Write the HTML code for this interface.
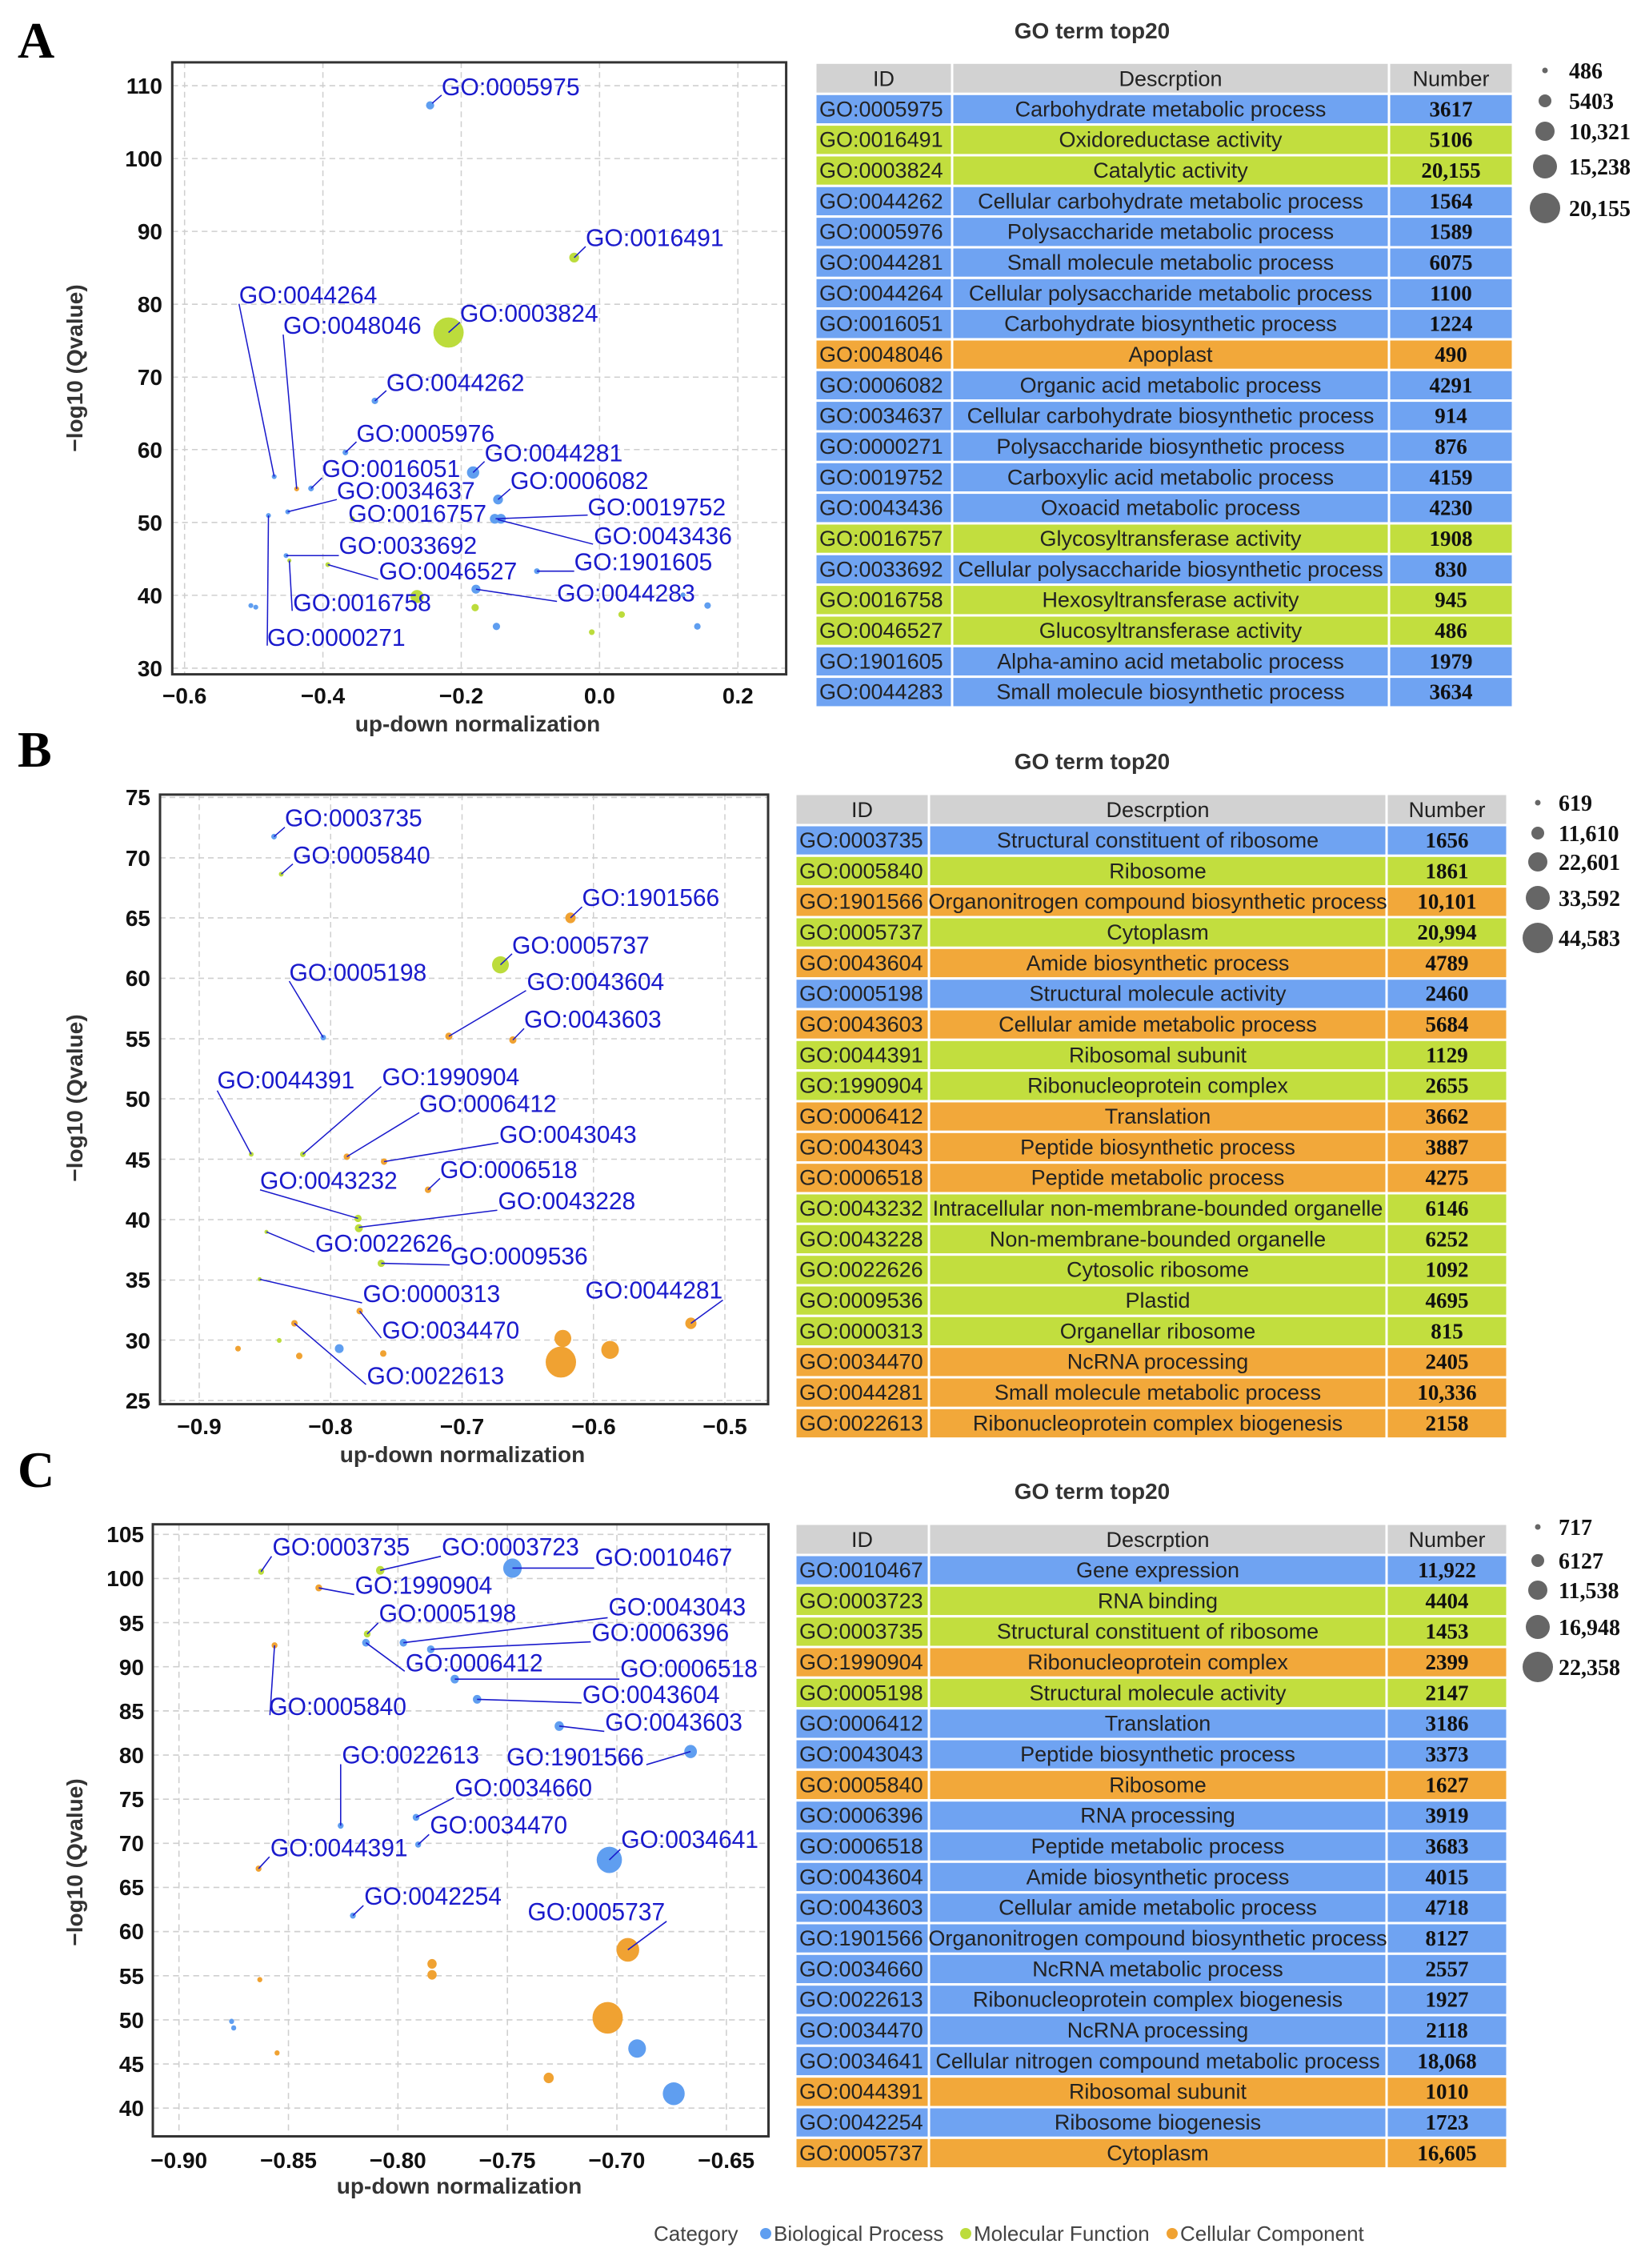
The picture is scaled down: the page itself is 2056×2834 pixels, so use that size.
<!DOCTYPE html>
<html><head><meta charset="utf-8"><style>
html,body{margin:0;padding:0;background:#fff}
svg{display:block}
.gl{stroke:#cfcfcf;stroke-width:3;stroke-dasharray:14 10;fill:none}
.ld{stroke:#1a1acc;stroke-width:3;fill:none}
.lb{fill:#1a1acc;font-family:"Liberation Sans",sans-serif}
.b{fill:#5f9ef0}.g{fill:#bcdc3c}.o{fill:#f0a232}
.tk{font-family:"Liberation Sans",sans-serif;font-weight:bold;font-size:28px;fill:#111}
.ttl{font-family:"Liberation Sans",sans-serif;font-weight:bold;font-size:28px;fill:#333}
.tx{font-family:"Liberation Sans",sans-serif;font-size:27px;fill:#222}
.nm{font-family:"Liberation Serif",serif;font-weight:bold;font-size:27px;fill:#111}
.ln{font-family:"Liberation Serif",serif;font-weight:bold;font-size:28px;fill:#111}
.rowb{fill:#6fa3f2;stroke:#fff;stroke-width:3}
.rowg{fill:#c2de3e;stroke:#fff;stroke-width:3}
.rowo{fill:#f2a83a;stroke:#fff;stroke-width:3}
.hd{fill:#d2d2d2;stroke:#fff;stroke-width:3}
.sep{stroke:#fff;stroke-width:3}
.lt{font-family:"Liberation Serif",serif;font-weight:bold;font-size:64px;fill:#000}
</style></head><body>
<svg width="2056" height="2834" viewBox="0 0 2056 2834" xmlns="http://www.w3.org/2000/svg">
<rect width="2056" height="2834" fill="#fff"/>

<text class="lt" x="22" y="72">A</text>
<text class="lt" x="22" y="958">B</text>
<text class="lt" x="22" y="1858">C</text>

<!-- ============ PANEL A PLOT ============ -->
<g transform="translate(200,60) scale(0.5115)">
<g class="gl">
<line x1="60" y1="35" x2="60" y2="1530"/><line x1="398" y1="35" x2="398" y2="1530"/><line x1="736" y1="35" x2="736" y2="1530"/><line x1="1074" y1="35" x2="1074" y2="1530"/><line x1="1412" y1="35" x2="1412" y2="1530"/>
<line x1="30" y1="92" x2="1530" y2="92"/><line x1="30" y1="270" x2="1530" y2="270"/><line x1="30" y1="448" x2="1530" y2="448"/><line x1="30" y1="626" x2="1530" y2="626"/><line x1="30" y1="804" x2="1530" y2="804"/><line x1="30" y1="981" x2="1530" y2="981"/><line x1="30" y1="1159" x2="1530" y2="1159"/><line x1="30" y1="1337" x2="1530" y2="1337"/><line x1="30" y1="1515" x2="1530" y2="1515"/>
</g>
<circle class="b" cx="660" cy="140" r="10"/>
<circle class="g" cx="1012" cy="512" r="12"/>
<circle class="g" cx="705" cy="695" r="37"/>
<circle class="b" cx="525" cy="862" r="8"/>
<circle class="b" cx="453" cy="988" r="7"/>
<circle class="b" cx="765" cy="1037" r="15"/>
<circle class="b" cx="279" cy="1047" r="6"/>
<circle class="o" cx="334" cy="1077" r="6"/>
<circle class="b" cx="369" cy="1076" r="7"/>
<circle class="b" cx="826" cy="1103" r="12"/>
<circle class="b" cx="312" cy="1133" r="6"/>
<circle class="b" cx="265" cy="1142" r="6"/>
<circle class="g" cx="470" cy="1150" r="6"/>
<circle class="b" cx="818" cy="1150" r="12"/>
<circle class="b" cx="833" cy="1150" r="12"/>
<circle class="b" cx="308" cy="1240" r="6"/>
<circle class="g" cx="316" cy="1252" r="5"/>
<circle class="g" cx="410" cy="1262" r="6"/>
<circle class="b" cx="921" cy="1278" r="7"/>
<circle class="b" cx="772" cy="1322" r="11"/>
<circle class="g" cx="628" cy="1340" r="16"/>
<circle class="b" cx="222" cy="1362" r="6"/>
<circle class="b" cx="234" cy="1366" r="6"/>
<circle class="g" cx="770" cy="1367" r="9"/>
<circle class="b" cx="822" cy="1413" r="9"/>
<circle class="g" cx="1128" cy="1384" r="8"/>
<circle class="g" cx="1055" cy="1427" r="7"/>
<circle class="b" cx="1278" cy="1336" r="6"/>
<circle class="b" cx="1338" cy="1362" r="8"/>
<circle class="b" cx="1313" cy="1413" r="8"/>
<g class="ld">
<line x1="665" y1="135" x2="688" y2="115"/>
<line x1="1012" y1="512" x2="1040" y2="485"/>
<line x1="705" y1="695" x2="733" y2="670"/>
<line x1="525" y1="862" x2="553" y2="837"/>
<line x1="453" y1="988" x2="480" y2="962"/>
<line x1="765" y1="1037" x2="793" y2="1010"/>
<line x1="193" y1="625" x2="279" y2="1047"/>
<line x1="301" y1="700" x2="334" y2="1077"/>
<line x1="369" y1="1076" x2="396" y2="1050"/>
<line x1="826" y1="1103" x2="856" y2="1077"/>
<line x1="312" y1="1133" x2="432" y2="1103"/>
<line x1="265" y1="1142" x2="262" y2="1460"/>
<line x1="820" y1="1150" x2="1045" y2="1141"/>
<line x1="825" y1="1152" x2="1058" y2="1212"/>
<line x1="308" y1="1240" x2="437" y2="1240"/>
<line x1="316" y1="1252" x2="323" y2="1375"/>
<line x1="410" y1="1262" x2="533" y2="1298"/>
<line x1="921" y1="1278" x2="1012" y2="1278"/>
<line x1="772" y1="1322" x2="970" y2="1352"/>
</g>
<g class="lb" font-size="59">
<text x="688" y="115">GO:0005975</text>
<text x="1040" y="484">GO:0016491</text>
<text x="733" y="669">GO:0003824</text>
<text x="553" y="838">GO:0044262</text>
<text x="480" y="962">GO:0005976</text>
<text x="793" y="1010">GO:0044281</text>
<text x="193" y="624">GO:0044264</text>
<text x="301" y="698">GO:0048046</text>
<text x="396" y="1048">GO:0016051</text>
<text x="856" y="1077">GO:0006082</text>
<text x="432" y="1102">GO:0034637</text>
<text x="460" y="1157">GO:0016757</text>
<text x="1045" y="1142">GO:0019752</text>
<text x="1060" y="1212">GO:0043436</text>
<text x="437" y="1236">GO:0033692</text>
<text x="535" y="1298">GO:0046527</text>
<text x="1012" y="1276">GO:1901605</text>
<text x="970" y="1352">GO:0044283</text>
<text x="325" y="1375">GO:0016758</text>
<text x="262" y="1460">GO:0000271</text>
</g>
</g>
<rect x="215.3" y="77.9" width="767.3" height="764.7" fill="none" stroke="#333" stroke-width="3"/>
<g class="tk" text-anchor="end">
<text x="203" y="117">110</text><text x="203" y="208">100</text><text x="203" y="299">90</text><text x="203" y="390">80</text><text x="203" y="481">70</text><text x="203" y="572">60</text><text x="203" y="663">50</text><text x="203" y="754">40</text><text x="203" y="845">30</text>
</g>
<g class="tk" text-anchor="middle">
<text x="230.7" y="879">−0.6</text><text x="403.6" y="879">−0.4</text><text x="576.5" y="879">−0.2</text><text x="749.4" y="879">0.0</text><text x="922.3" y="879">0.2</text>
</g>
<text class="ttl" x="597" y="914" text-anchor="middle">up-down normalization</text>
<text class="ttl" transform="translate(103,460) rotate(-90)" text-anchor="middle">−log10 (Qvalue)</text>

<!-- ============ PANEL B PLOT ============ -->
<g transform="translate(190,975) scale(0.5,0.5102)">
<g class="gl">
<line x1="118" y1="35" x2="118" y2="1528"/><line x1="446.5" y1="35" x2="446.5" y2="1528"/><line x1="775" y1="35" x2="775" y2="1528"/><line x1="1103.5" y1="35" x2="1103.5" y2="1528"/><line x1="1432" y1="35" x2="1432" y2="1528"/>
<line x1="20" y1="42" x2="1540" y2="42"/><line x1="20" y1="190" x2="1540" y2="190"/><line x1="20" y1="337" x2="1540" y2="337"/><line x1="20" y1="485" x2="1540" y2="485"/><line x1="20" y1="633" x2="1540" y2="633"/><line x1="20" y1="780" x2="1540" y2="780"/><line x1="20" y1="928" x2="1540" y2="928"/><line x1="20" y1="1076" x2="1540" y2="1076"/><line x1="20" y1="1224" x2="1540" y2="1224"/><line x1="20" y1="1371" x2="1540" y2="1371"/><line x1="20" y1="1519" x2="1540" y2="1519"/>
</g>
<circle class="b" cx="305" cy="138" r="7"/>
<circle class="g" cx="323" cy="230" r="6"/>
<circle class="o" cx="1046" cy="337" r="13"/>
<circle class="g" cx="871" cy="452" r="21"/>
<circle class="b" cx="428" cy="630" r="7"/>
<circle class="o" cx="742" cy="627" r="9"/>
<circle class="o" cx="902" cy="636" r="9"/>
<circle class="g" cx="248" cy="916" r="6"/>
<circle class="g" cx="377" cy="916" r="7"/>
<circle class="o" cx="487" cy="922" r="8"/>
<circle class="o" cx="580" cy="934" r="8"/>
<circle class="o" cx="690" cy="1003" r="8"/>
<circle class="g" cx="515" cy="1073" r="9"/>
<circle class="g" cx="517" cy="1097" r="10"/>
<circle class="g" cx="286" cy="1106" r="5"/>
<circle class="g" cx="573" cy="1183" r="9"/>
<circle class="g" cx="269" cy="1222" r="5"/>
<circle class="o" cx="519" cy="1300" r="8"/>
<circle class="o" cx="356" cy="1330" r="8"/>
<circle class="o" cx="1347" cy="1330" r="14"/>
<circle class="o" cx="1027" cy="1367" r="21"/>
<circle class="o" cx="1022" cy="1425" r="38"/>
<circle class="o" cx="1145" cy="1395" r="22"/>
<circle class="o" cx="215" cy="1392" r="7"/>
<circle class="g" cx="318" cy="1372" r="6"/>
<circle class="o" cx="368" cy="1410" r="8"/>
<circle class="b" cx="468" cy="1392" r="11"/>
<circle class="o" cx="578" cy="1404" r="8"/>
<g class="ld">
<line x1="305" y1="138" x2="332" y2="115"/>
<line x1="323" y1="230" x2="352" y2="205"/>
<line x1="1046" y1="337" x2="1075" y2="310"/>
<line x1="871" y1="452" x2="900" y2="425"/>
<line x1="343" y1="492" x2="428" y2="630"/>
<line x1="742" y1="627" x2="935" y2="515"/>
<line x1="902" y1="636" x2="930" y2="608"/>
<line x1="163" y1="760" x2="248" y2="916"/>
<line x1="377" y1="916" x2="573" y2="750"/>
<line x1="487" y1="922" x2="668" y2="814"/>
<line x1="580" y1="934" x2="866" y2="888"/>
<line x1="690" y1="1003" x2="720" y2="975"/>
<line x1="270" y1="1003" x2="515" y2="1073"/>
<line x1="517" y1="1095" x2="863" y2="1053"/>
<line x1="286" y1="1106" x2="406" y2="1155"/>
<line x1="573" y1="1183" x2="744" y2="1187"/>
<line x1="269" y1="1222" x2="525" y2="1280"/>
<line x1="519" y1="1300" x2="573" y2="1366"/>
<line x1="356" y1="1330" x2="535" y2="1480"/>
<line x1="1347" y1="1330" x2="1427" y2="1273"/>
</g>
<g class="lb" font-size="60">
<text x="332" y="113">GO:0003735</text>
<text x="352" y="204">GO:0005840</text>
<text x="1075" y="308">GO:1901566</text>
<text x="900" y="424">GO:0005737</text>
<text x="343" y="491">GO:0005198</text>
<text x="937" y="514">GO:0043604</text>
<text x="930" y="606">GO:0043603</text>
<text x="163" y="755">GO:0044391</text>
<text x="575" y="747">GO:1990904</text>
<text x="668" y="812">GO:0006412</text>
<text x="868" y="888">GO:0043043</text>
<text x="720" y="974">GO:0006518</text>
<text x="270" y="1001">GO:0043232</text>
<text x="865" y="1051">GO:0043228</text>
<text x="408" y="1154">GO:0022626</text>
<text x="746" y="1186">GO:0009536</text>
<text x="527" y="1278">GO:0000313</text>
<text x="575" y="1367">GO:0034470</text>
<text x="537" y="1479">GO:0022613</text>
<text x="1083" y="1269">GO:0044281</text>
</g>
</g>
<rect x="200" y="992.9" width="760" height="761.7" fill="none" stroke="#333" stroke-width="3"/>
<g class="tk" text-anchor="end">
<text x="188" y="1006">75</text><text x="188" y="1082">70</text><text x="188" y="1157">65</text><text x="188" y="1232">60</text><text x="188" y="1308">55</text><text x="188" y="1383">50</text><text x="188" y="1459">45</text><text x="188" y="1534">40</text><text x="188" y="1609">35</text><text x="188" y="1685">30</text><text x="188" y="1760">25</text>
</g>
<g class="tk" text-anchor="middle">
<text x="249" y="1792">−0.9</text><text x="413" y="1792">−0.8</text><text x="577.5" y="1792">−0.7</text><text x="742" y="1792">−0.6</text><text x="906" y="1792">−0.5</text>
</g>
<text class="ttl" x="578" y="1827" text-anchor="middle">up-down normalization</text>
<text class="ttl" transform="translate(103,1372) rotate(-90)" text-anchor="middle">−log10 (Qvalue)</text>

<!-- ============ PANEL C PLOT ============ -->
<g transform="translate(150,1880) scale(0.5263,0.5482)">
<g class="gl">
<line x1="140" y1="45" x2="140" y2="1440"/><line x1="400" y1="45" x2="400" y2="1440"/><line x1="660" y1="45" x2="660" y2="1440"/><line x1="920" y1="45" x2="920" y2="1440"/><line x1="1180" y1="45" x2="1180" y2="1440"/><line x1="1440" y1="45" x2="1440" y2="1440"/>
<line x1="78" y1="68" x2="1540" y2="68"/><line x1="78" y1="168.6" x2="1540" y2="168.6"/><line x1="78" y1="269.2" x2="1540" y2="269.2"/><line x1="78" y1="369.8" x2="1540" y2="369.8"/><line x1="78" y1="470.4" x2="1540" y2="470.4"/><line x1="78" y1="571" x2="1540" y2="571"/><line x1="78" y1="671.6" x2="1540" y2="671.6"/><line x1="78" y1="772.2" x2="1540" y2="772.2"/><line x1="78" y1="872.8" x2="1540" y2="872.8"/><line x1="78" y1="973.4" x2="1540" y2="973.4"/><line x1="78" y1="1074" x2="1540" y2="1074"/><line x1="78" y1="1174.6" x2="1540" y2="1174.6"/><line x1="78" y1="1275.2" x2="1540" y2="1275.2"/><line x1="78" y1="1375.8" x2="1540" y2="1375.8"/>
</g>
<circle class="g" cx="335" cy="153" r="7"/>
<circle class="g" cx="618" cy="150" r="10"/>
<circle class="b" cx="932" cy="145" r="22"/>
<circle class="o" cx="472" cy="190" r="8"/>
<circle class="g" cx="587" cy="295" r="8"/>
<circle class="b" cx="584" cy="315" r="9"/>
<circle class="b" cx="673" cy="315" r="9"/>
<circle class="b" cx="738" cy="330" r="9"/>
<circle class="o" cx="367" cy="321" r="7"/>
<circle class="b" cx="795" cy="398" r="10"/>
<circle class="b" cx="848" cy="444" r="10"/>
<circle class="b" cx="1043" cy="505" r="11"/>
<circle class="b" cx="1355" cy="563" r="15"/>
<circle class="b" cx="524" cy="732" r="7"/>
<circle class="b" cx="703" cy="713" r="8"/>
<circle class="b" cx="708" cy="775" r="7"/>
<circle class="o" cx="329" cy="830" r="7"/>
<circle class="b" cx="1162" cy="810" r="30"/>
<circle class="b" cx="553" cy="937" r="7"/>
<circle class="o" cx="1206" cy="1015" r="27"/>
<circle class="o" cx="741" cy="1047" r="11"/>
<circle class="o" cx="741" cy="1072" r="11"/>
<circle class="o" cx="332" cy="1083" r="6"/>
<circle class="o" cx="1158" cy="1170" r="36"/>
<circle class="b" cx="1228" cy="1240" r="21"/>
<circle class="b" cx="265" cy="1178" r="6"/>
<circle class="b" cx="270" cy="1193" r="6"/>
<circle class="o" cx="373" cy="1250" r="6"/>
<circle class="o" cx="1018" cy="1307" r="12"/>
<circle class="b" cx="1315" cy="1343" r="26"/>
<g class="ld">
<line x1="335" y1="153" x2="360" y2="118"/>
<line x1="618" y1="150" x2="762" y2="118"/>
<line x1="932" y1="145" x2="1126" y2="145"/>
<line x1="472" y1="190" x2="556" y2="205"/>
<line x1="587" y1="295" x2="613" y2="270"/>
<line x1="584" y1="315" x2="676" y2="380"/>
<line x1="673" y1="315" x2="1158" y2="258"/>
<line x1="738" y1="330" x2="1118" y2="313"/>
<line x1="367" y1="321" x2="356" y2="480"/>
<line x1="795" y1="398" x2="1186" y2="398"/>
<line x1="848" y1="444" x2="1096" y2="452"/>
<line x1="1043" y1="505" x2="1150" y2="517"/>
<line x1="1355" y1="563" x2="1250" y2="593"/>
<line x1="524" y1="732" x2="524" y2="592"/>
<line x1="703" y1="713" x2="793" y2="668"/>
<line x1="708" y1="775" x2="734" y2="752"/>
<line x1="329" y1="830" x2="355" y2="803"/>
<line x1="1162" y1="810" x2="1188" y2="786"/>
<line x1="553" y1="937" x2="578" y2="914"/>
<line x1="1206" y1="1015" x2="1298" y2="950"/>
</g>
<g class="lb" font-size="57">
<text x="362" y="116">GO:0003735</text>
<text x="764" y="116">GO:0003723</text>
<text x="1128" y="140">GO:0010467</text>
<text x="558" y="203">GO:1990904</text>
<text x="615" y="267">GO:0005198</text>
<text x="678" y="380">GO:0006412</text>
<text x="1160" y="253">GO:0043043</text>
<text x="1120" y="311">GO:0006396</text>
<text x="354" y="480">GO:0005840</text>
<text x="1188" y="393">GO:0006518</text>
<text x="1098" y="452">GO:0043604</text>
<text x="1152" y="515">GO:0043603</text>
<text x="918" y="595">GO:1901566</text>
<text x="527" y="590">GO:0022613</text>
<text x="795" y="665">GO:0034660</text>
<text x="736" y="750">GO:0034470</text>
<text x="357" y="802">GO:0044391</text>
<text x="1190" y="783">GO:0034641</text>
<text x="580" y="912">GO:0042254</text>
<text x="968" y="948">GO:0005737</text>
</g>
</g>
<rect x="191" y="1904.7" width="769.5" height="764.8" fill="none" stroke="#333" stroke-width="3"/>
<g class="tk" text-anchor="end">
<text x="180" y="1927">105</text><text x="180" y="1982">100</text><text x="180" y="2038">95</text><text x="180" y="2093">90</text><text x="180" y="2148">85</text><text x="180" y="2203">80</text><text x="180" y="2258">75</text><text x="180" y="2313">70</text><text x="180" y="2368">65</text><text x="180" y="2423">60</text><text x="180" y="2479">55</text><text x="180" y="2534">50</text><text x="180" y="2589">45</text><text x="180" y="2644">40</text>
</g>
<g class="tk" text-anchor="middle">
<text x="223.7" y="2709">−0.90</text><text x="360.5" y="2709">−0.85</text><text x="497.3" y="2709">−0.80</text><text x="634.1" y="2709">−0.75</text><text x="770.9" y="2709">−0.70</text><text x="907.7" y="2709">−0.65</text>
</g>
<text class="ttl" x="574" y="2741" text-anchor="middle">up-down normalization</text>
<text class="ttl" transform="translate(103,2327) rotate(-90)" text-anchor="middle">−log10 (Qvalue)</text>

<!-- ============ TABLE A ============ -->
<text class="ttl" x="1365" y="48" text-anchor="middle">GO term top20</text>
<g transform="translate(1019,78.3)">
<rect class="hd" x="0" y="0" width="872" height="39"/>
<rect class="rowb" x="0" y="39" width="872" height="38.33"/>
<rect class="rowg" x="0" y="77.3" width="872" height="38.33"/>
<rect class="rowg" x="0" y="115.7" width="872" height="38.33"/>
<rect class="rowb" x="0" y="154" width="872" height="38.33"/>
<rect class="rowb" x="0" y="192.3" width="872" height="38.33"/>
<rect class="rowb" x="0" y="230.7" width="872" height="38.33"/>
<rect class="rowb" x="0" y="269" width="872" height="38.33"/>
<rect class="rowb" x="0" y="307.3" width="872" height="38.33"/>
<rect class="rowo" x="0" y="345.7" width="872" height="38.33"/>
<rect class="rowb" x="0" y="384" width="872" height="38.33"/>
<rect class="rowb" x="0" y="422.3" width="872" height="38.33"/>
<rect class="rowb" x="0" y="460.7" width="872" height="38.33"/>
<rect class="rowb" x="0" y="499" width="872" height="38.33"/>
<rect class="rowb" x="0" y="537.3" width="872" height="38.33"/>
<rect class="rowg" x="0" y="575.7" width="872" height="38.33"/>
<rect class="rowb" x="0" y="614" width="872" height="38.33"/>
<rect class="rowg" x="0" y="652.3" width="872" height="38.33"/>
<rect class="rowg" x="0" y="690.7" width="872" height="38.33"/>
<rect class="rowb" x="0" y="729" width="872" height="38.33"/>
<rect class="rowb" x="0" y="767.3" width="872" height="38.33"/>
<line class="sep" x1="171" y1="0" x2="171" y2="805.6"/><line class="sep" x1="717" y1="0" x2="717" y2="805.6"/>
<g class="tx" text-anchor="middle"><text x="85.5" y="29">ID</text><text x="444" y="29">Descrption</text><text x="794.5" y="29">Number</text></g>
<g class="tx">
<text x="5" y="67">GO:0005975</text><text x="5" y="105.3">GO:0016491</text><text x="5" y="143.7">GO:0003824</text><text x="5" y="182">GO:0044262</text><text x="5" y="220.3">GO:0005976</text><text x="5" y="258.7">GO:0044281</text><text x="5" y="297">GO:0044264</text><text x="5" y="335.3">GO:0016051</text><text x="5" y="373.7">GO:0048046</text><text x="5" y="412">GO:0006082</text><text x="5" y="450.3">GO:0034637</text><text x="5" y="488.7">GO:0000271</text><text x="5" y="527">GO:0019752</text><text x="5" y="565.3">GO:0043436</text><text x="5" y="603.7">GO:0016757</text><text x="5" y="642">GO:0033692</text><text x="5" y="680.3">GO:0016758</text><text x="5" y="718.7">GO:0046527</text><text x="5" y="757">GO:1901605</text><text x="5" y="795.3">GO:0044283</text>
</g>
<g class="tx" text-anchor="middle">
<text x="444" y="67">Carbohydrate metabolic process</text><text x="444" y="105.3">Oxidoreductase activity</text><text x="444" y="143.7">Catalytic activity</text><text x="444" y="182">Cellular carbohydrate metabolic process</text><text x="444" y="220.3">Polysaccharide metabolic process</text><text x="444" y="258.7">Small molecule metabolic process</text><text x="444" y="297">Cellular polysaccharide metabolic process</text><text x="444" y="335.3">Carbohydrate biosynthetic process</text><text x="444" y="373.7">Apoplast</text><text x="444" y="412">Organic acid metabolic process</text><text x="444" y="450.3">Cellular carbohydrate biosynthetic process</text><text x="444" y="488.7">Polysaccharide biosynthetic process</text><text x="444" y="527">Carboxylic acid metabolic process</text><text x="444" y="565.3">Oxoacid metabolic process</text><text x="444" y="603.7">Glycosyltransferase activity</text><text x="444" y="642">Cellular polysaccharide biosynthetic process</text><text x="444" y="680.3">Hexosyltransferase activity</text><text x="444" y="718.7">Glucosyltransferase activity</text><text x="444" y="757">Alpha-amino acid metabolic process</text><text x="444" y="795.3">Small molecule biosynthetic process</text>
</g>
<g class="nm" text-anchor="middle">
<text x="794.5" y="67">3617</text><text x="794.5" y="105.3">5106</text><text x="794.5" y="143.7">20,155</text><text x="794.5" y="182">1564</text><text x="794.5" y="220.3">1589</text><text x="794.5" y="258.7">6075</text><text x="794.5" y="297">1100</text><text x="794.5" y="335.3">1224</text><text x="794.5" y="373.7">490</text><text x="794.5" y="412">4291</text><text x="794.5" y="450.3">914</text><text x="794.5" y="488.7">876</text><text x="794.5" y="527">4159</text><text x="794.5" y="565.3">4230</text><text x="794.5" y="603.7">1908</text><text x="794.5" y="642">830</text><text x="794.5" y="680.3">945</text><text x="794.5" y="718.7">486</text><text x="794.5" y="757">1979</text><text x="794.5" y="795.3">3634</text>
</g>
</g>
<g fill="#666"><circle cx="1931" cy="88" r="3.5"/><circle cx="1931" cy="126" r="8"/><circle cx="1931" cy="164" r="12"/><circle cx="1931" cy="208" r="15"/><circle cx="1931" cy="260" r="19"/></g>
<g class="ln"><text x="1961" y="98">486</text><text x="1961" y="136">5403</text><text x="1961" y="174">10,321</text><text x="1961" y="218">15,238</text><text x="1961" y="270">20,155</text></g>

<!-- ============ TABLE B ============ -->
<text class="ttl" x="1365" y="961" text-anchor="middle">GO term top20</text>
<g transform="translate(994,992)">
<rect class="hd" x="0" y="0" width="890" height="39"/>
<rect class="rowb" x="0" y="39" width="890" height="38.33"/>
<rect class="rowg" x="0" y="77.3" width="890" height="38.33"/>
<rect class="rowo" x="0" y="115.7" width="890" height="38.33"/>
<rect class="rowg" x="0" y="154" width="890" height="38.33"/>
<rect class="rowo" x="0" y="192.3" width="890" height="38.33"/>
<rect class="rowb" x="0" y="230.7" width="890" height="38.33"/>
<rect class="rowo" x="0" y="269" width="890" height="38.33"/>
<rect class="rowg" x="0" y="307.3" width="890" height="38.33"/>
<rect class="rowg" x="0" y="345.7" width="890" height="38.33"/>
<rect class="rowo" x="0" y="384" width="890" height="38.33"/>
<rect class="rowo" x="0" y="422.3" width="890" height="38.33"/>
<rect class="rowo" x="0" y="460.7" width="890" height="38.33"/>
<rect class="rowg" x="0" y="499" width="890" height="38.33"/>
<rect class="rowg" x="0" y="537.3" width="890" height="38.33"/>
<rect class="rowg" x="0" y="575.7" width="890" height="38.33"/>
<rect class="rowg" x="0" y="614" width="890" height="38.33"/>
<rect class="rowg" x="0" y="652.3" width="890" height="38.33"/>
<rect class="rowo" x="0" y="690.7" width="890" height="38.33"/>
<rect class="rowo" x="0" y="729" width="890" height="38.33"/>
<rect class="rowo" x="0" y="767.3" width="890" height="38.33"/>
<line class="sep" x1="167" y1="0" x2="167" y2="805.6"/><line class="sep" x1="739" y1="0" x2="739" y2="805.6"/>
<g class="tx" text-anchor="middle"><text x="83.5" y="29">ID</text><text x="453" y="29">Descrption</text><text x="814.5" y="29">Number</text></g>
<g class="tx">
<text x="5" y="67">GO:0003735</text><text x="5" y="105.3">GO:0005840</text><text x="5" y="143.7">GO:1901566</text><text x="5" y="182">GO:0005737</text><text x="5" y="220.3">GO:0043604</text><text x="5" y="258.7">GO:0005198</text><text x="5" y="297">GO:0043603</text><text x="5" y="335.3">GO:0044391</text><text x="5" y="373.7">GO:1990904</text><text x="5" y="412">GO:0006412</text><text x="5" y="450.3">GO:0043043</text><text x="5" y="488.7">GO:0006518</text><text x="5" y="527">GO:0043232</text><text x="5" y="565.3">GO:0043228</text><text x="5" y="603.7">GO:0022626</text><text x="5" y="642">GO:0009536</text><text x="5" y="680.3">GO:0000313</text><text x="5" y="718.7">GO:0034470</text><text x="5" y="757">GO:0044281</text><text x="5" y="795.3">GO:0022613</text>
</g>
<g class="tx" text-anchor="middle">
<text x="453" y="67">Structural constituent of ribosome</text><text x="453" y="105.3">Ribosome</text><text x="453" y="143.7">Organonitrogen compound biosynthetic process</text><text x="453" y="182">Cytoplasm</text><text x="453" y="220.3">Amide biosynthetic process</text><text x="453" y="258.7">Structural molecule activity</text><text x="453" y="297">Cellular amide metabolic process</text><text x="453" y="335.3">Ribosomal subunit</text><text x="453" y="373.7">Ribonucleoprotein complex</text><text x="453" y="412">Translation</text><text x="453" y="450.3">Peptide biosynthetic process</text><text x="453" y="488.7">Peptide metabolic process</text><text x="453" y="527">Intracellular non-membrane-bounded organelle</text><text x="453" y="565.3">Non-membrane-bounded organelle</text><text x="453" y="603.7">Cytosolic ribosome</text><text x="453" y="642">Plastid</text><text x="453" y="680.3">Organellar ribosome</text><text x="453" y="718.7">NcRNA processing</text><text x="453" y="757">Small molecule metabolic process</text><text x="453" y="795.3">Ribonucleoprotein complex biogenesis</text>
</g>
<g class="nm" text-anchor="middle">
<text x="814.5" y="67">1656</text><text x="814.5" y="105.3">1861</text><text x="814.5" y="143.7">10,101</text><text x="814.5" y="182">20,994</text><text x="814.5" y="220.3">4789</text><text x="814.5" y="258.7">2460</text><text x="814.5" y="297">5684</text><text x="814.5" y="335.3">1129</text><text x="814.5" y="373.7">2655</text><text x="814.5" y="412">3662</text><text x="814.5" y="450.3">3887</text><text x="814.5" y="488.7">4275</text><text x="814.5" y="527">6146</text><text x="814.5" y="565.3">6252</text><text x="814.5" y="603.7">1092</text><text x="814.5" y="642">4695</text><text x="814.5" y="680.3">815</text><text x="814.5" y="718.7">2405</text><text x="814.5" y="757">10,336</text><text x="814.5" y="795.3">2158</text>
</g>
</g>
<g fill="#666"><circle cx="1922" cy="1003" r="3.5"/><circle cx="1922" cy="1041" r="8"/><circle cx="1922" cy="1077" r="12"/><circle cx="1922" cy="1122" r="15"/><circle cx="1922" cy="1172" r="19"/></g>
<g class="ln"><text x="1948" y="1013">619</text><text x="1948" y="1051">11,610</text><text x="1948" y="1087">22,601</text><text x="1948" y="1132">33,592</text><text x="1948" y="1182">44,583</text></g>

<!-- ============ TABLE C ============ -->
<text class="ttl" x="1365" y="1873" text-anchor="middle">GO term top20</text>
<g transform="translate(994,1904)">
<rect class="hd" x="0" y="0" width="890" height="39"/>
<rect class="rowb" x="0" y="39" width="890" height="38.33"/>
<rect class="rowg" x="0" y="77.3" width="890" height="38.33"/>
<rect class="rowg" x="0" y="115.7" width="890" height="38.33"/>
<rect class="rowo" x="0" y="154" width="890" height="38.33"/>
<rect class="rowg" x="0" y="192.3" width="890" height="38.33"/>
<rect class="rowb" x="0" y="230.7" width="890" height="38.33"/>
<rect class="rowb" x="0" y="269" width="890" height="38.33"/>
<rect class="rowo" x="0" y="307.3" width="890" height="38.33"/>
<rect class="rowb" x="0" y="345.7" width="890" height="38.33"/>
<rect class="rowb" x="0" y="384" width="890" height="38.33"/>
<rect class="rowb" x="0" y="422.3" width="890" height="38.33"/>
<rect class="rowb" x="0" y="460.7" width="890" height="38.33"/>
<rect class="rowb" x="0" y="499" width="890" height="38.33"/>
<rect class="rowb" x="0" y="537.3" width="890" height="38.33"/>
<rect class="rowb" x="0" y="575.7" width="890" height="38.33"/>
<rect class="rowb" x="0" y="614" width="890" height="38.33"/>
<rect class="rowb" x="0" y="652.3" width="890" height="38.33"/>
<rect class="rowo" x="0" y="690.7" width="890" height="38.33"/>
<rect class="rowb" x="0" y="729" width="890" height="38.33"/>
<rect class="rowo" x="0" y="767.3" width="890" height="38.33"/>
<line class="sep" x1="167" y1="0" x2="167" y2="805.6"/><line class="sep" x1="739" y1="0" x2="739" y2="805.6"/>
<g class="tx" text-anchor="middle"><text x="83.5" y="29">ID</text><text x="453" y="29">Descrption</text><text x="814.5" y="29">Number</text></g>
<g class="tx">
<text x="5" y="67">GO:0010467</text><text x="5" y="105.3">GO:0003723</text><text x="5" y="143.7">GO:0003735</text><text x="5" y="182">GO:1990904</text><text x="5" y="220.3">GO:0005198</text><text x="5" y="258.7">GO:0006412</text><text x="5" y="297">GO:0043043</text><text x="5" y="335.3">GO:0005840</text><text x="5" y="373.7">GO:0006396</text><text x="5" y="412">GO:0006518</text><text x="5" y="450.3">GO:0043604</text><text x="5" y="488.7">GO:0043603</text><text x="5" y="527">GO:1901566</text><text x="5" y="565.3">GO:0034660</text><text x="5" y="603.7">GO:0022613</text><text x="5" y="642">GO:0034470</text><text x="5" y="680.3">GO:0034641</text><text x="5" y="718.7">GO:0044391</text><text x="5" y="757">GO:0042254</text><text x="5" y="795.3">GO:0005737</text>
</g>
<g class="tx" text-anchor="middle">
<text x="453" y="67">Gene expression</text><text x="453" y="105.3">RNA binding</text><text x="453" y="143.7">Structural constituent of ribosome</text><text x="453" y="182">Ribonucleoprotein complex</text><text x="453" y="220.3">Structural molecule activity</text><text x="453" y="258.7">Translation</text><text x="453" y="297">Peptide biosynthetic process</text><text x="453" y="335.3">Ribosome</text><text x="453" y="373.7">RNA processing</text><text x="453" y="412">Peptide metabolic process</text><text x="453" y="450.3">Amide biosynthetic process</text><text x="453" y="488.7">Cellular amide metabolic process</text><text x="453" y="527">Organonitrogen compound biosynthetic process</text><text x="453" y="565.3">NcRNA metabolic process</text><text x="453" y="603.7">Ribonucleoprotein complex biogenesis</text><text x="453" y="642">NcRNA processing</text><text x="453" y="680.3">Cellular nitrogen compound metabolic process</text><text x="453" y="718.7">Ribosomal subunit</text><text x="453" y="757">Ribosome biogenesis</text><text x="453" y="795.3">Cytoplasm</text>
</g>
<g class="nm" text-anchor="middle">
<text x="814.5" y="67">11,922</text><text x="814.5" y="105.3">4404</text><text x="814.5" y="143.7">1453</text><text x="814.5" y="182">2399</text><text x="814.5" y="220.3">2147</text><text x="814.5" y="258.7">3186</text><text x="814.5" y="297">3373</text><text x="814.5" y="335.3">1627</text><text x="814.5" y="373.7">3919</text><text x="814.5" y="412">3683</text><text x="814.5" y="450.3">4015</text><text x="814.5" y="488.7">4718</text><text x="814.5" y="527">8127</text><text x="814.5" y="565.3">2557</text><text x="814.5" y="603.7">1927</text><text x="814.5" y="642">2118</text><text x="814.5" y="680.3">18,068</text><text x="814.5" y="718.7">1010</text><text x="814.5" y="757">1723</text><text x="814.5" y="795.3">16,605</text>
</g>
</g>
<g fill="#666"><circle cx="1922" cy="1908" r="3.5"/><circle cx="1922" cy="1950" r="8"/><circle cx="1922" cy="1987" r="12"/><circle cx="1922" cy="2033" r="15"/><circle cx="1922" cy="2083" r="19"/></g>
<g class="ln"><text x="1948" y="1918">717</text><text x="1948" y="1960">6127</text><text x="1948" y="1997">11,538</text><text x="1948" y="2043">16,948</text><text x="1948" y="2093">22,358</text></g>

<g font-family="Liberation Sans, sans-serif" font-size="26" fill="#444">
<text x="817" y="2800">Category</text>
<circle cx="957" cy="2791" r="7" fill="#5f9ef0"/><text x="967" y="2800">Biological Process</text>
<circle cx="1207" cy="2791" r="7" fill="#bcdc3c"/><text x="1217" y="2800">Molecular Function</text>
<circle cx="1465" cy="2791" r="7" fill="#f0a232"/><text x="1475" y="2800">Cellular Component</text>
</g>
</svg>
</body></html>
